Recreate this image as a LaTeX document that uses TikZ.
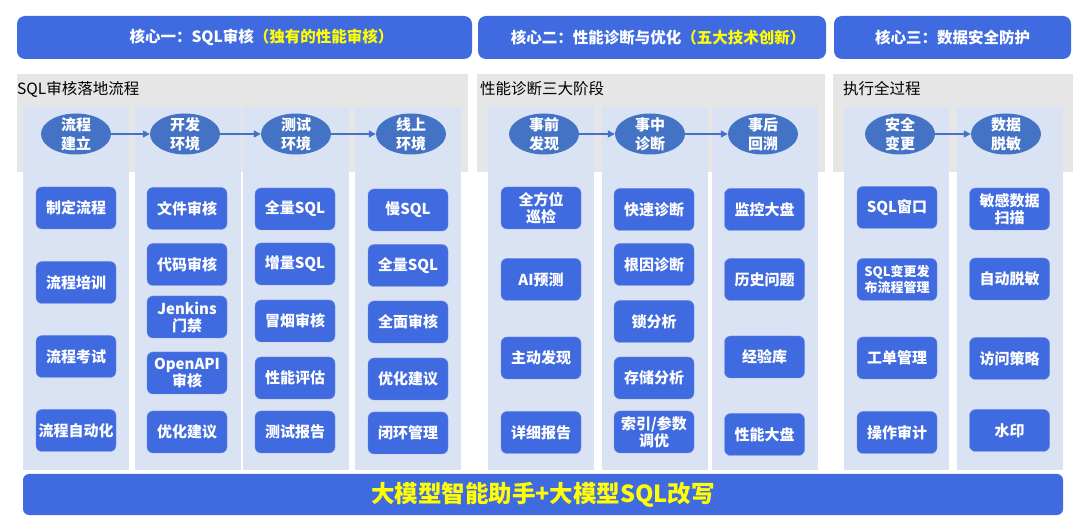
\documentclass[tikz,border=0pt]{standalone}
\usepackage{fontspec}
\setmainfont{Noto Sans CJK SC}
\usepackage{tikz}
\definecolor{kernblue}{RGB}{64,106,224}
\definecolor{ovalblue}{RGB}{68,114,196}
\definecolor{colblue}{RGB}{218,227,243}
\definecolor{panelgrey}{RGB}{230,230,230}
\definecolor{hiyellow}{RGB}{255,255,0}
\usetikzlibrary{arrows.meta, shapes.geometric, positioning}

\begin{document}
\begin{tikzpicture}[x=1pt, y=-1pt,
			>={Triangle[length=7pt, width=7pt]},   %Pfeilspitzen
			kopf/.style={fill=kernblue, rounded corners=8pt, minimum height=43pt, inner sep=0pt, text=white, font=\fontsize{15.5}{18}\selectfont\bfseries},
			titel/.style={anchor=west, inner sep=0pt, font=\fontsize{15.5}{18}\selectfont},
			phase/.style={ellipse, fill=ovalblue, minimum width=70pt, minimum height=41pt, inner sep=-5pt, align=center, text=white, font=\fontsize{15}{19}\selectfont\bfseries},
			item/.style={fill=kernblue, draw=kernblue!75!white, rounded corners=6pt, minimum width=80pt, minimum height=42pt, inner xsep=1pt, inner ysep=0pt, align=center, text=white, font=\fontsize{15}{17}\selectfont\bfseries},
			flow/.style={->, ovalblue, line width=1.4pt},
			balken/.style={fill=kernblue, rounded corners=6pt, minimum width=1040pt, minimum height=41pt, inner sep=0pt, text=hiyellow, font=\fontsize{23.5}{26}\selectfont\bfseries}]
			\useasboundingbox (0,0) rectangle (1080,529);
			% graue Bereiche
			\fill[panelgrey] (17,74) rectangle (468,172);
			\fill[panelgrey] (477,74) rectangle (825,172);
			\fill[panelgrey] (833,74) rectangle (1073,172);
			% Spalten
			\foreach \xa/\xb in {23/129,135/241,243/349,355/461,488/594,602/708,712/818,844/949,957/1063}
				\fill[colblue] (\xa,107) rectangle (\xb,470);
			% Kopfzeilen
			\node[kopf, minimum width=455pt] (kern1) at (244.5,37.5) {\hspace*{34pt}核心一：SQL审核\textcolor{hiyellow}{（独有的性能审核）}};
			\node[kopf, minimum width=348pt] (kern2) at (652,37.5) {\hspace*{12pt}核心二：性能诊断与优化\textcolor{hiyellow}{（五大技术创新）}};
			\node[kopf, minimum width=237pt] (kern3) at (952.5,37.5) {核心三：数据安全防护};
			\node[titel] (t1) at (17,89) {SQL审核落地流程};
			\node[titel] (t2) at (480,89) {性能诊断三大阶段};
			\node[titel] (t3) at (843,89) {执行全过程};
			% Phasen
			\node[phase] (p1) at (76,134) {流程\\建立};
			\node[phase] (p2) at (185,134) {开发\\环境};
			\node[phase] (p3) at (296,134) {测试\\环境};
			\node[phase] (p4) at (411,134) {线上\\环境};
			\node[phase] (q1) at (544,134) {事前\\发现};
			\node[phase] (q2) at (650,134) {事中\\诊断};
			\node[phase] (q3) at (763,134) {事后\\回溯};
			\node[phase] (r1) at (900,134) {安全\\变更};
			\node[phase] (r2) at (1006,134) {数据\\脱敏};
			\draw[flow] (p1) -- (p2);
			\draw[flow] (p2) -- (p3);
			\draw[flow] (p3) -- (p4);
			\draw[flow] (q1) -- (q2);
			\draw[flow] (q2) -- (q3);
			\draw[flow] (r1) -- (r2);
			% Kästen SQL-Audit
			\foreach \txt/\y [count=\i] in {制定流程/208, 流程培训/282.5, 流程考试/356.5, 流程自动化/430.5}
				\node[item] (a\i) at (76,\y) {\txt};
			\foreach \txt/\y [count=\i] in {文件审核/208.5, 代码审核/264.5, {Jenkins\\门禁}/317, {OpenAPI\\审核}/373, 优化建议/432}
				\node[item] (b\i) at (187,\y) {\txt};
			\foreach \txt/\y [count=\i] in {全量SQL/209, 增量SQL/264, 冒烟审核/321, 性能评估/378, 测试报告/432}
				\node[item] (c\i) at (295,\y) {\txt};
			\foreach \txt/\y [count=\i] in {慢SQL/210, 全量SQL/265.5, 全面审核/322, 优化建议/379, 闭环管理/433}
				\node[item] (d\i) at (408,\y) {\txt};
			% Kästen Diagnose
			\foreach \txt/\y [count=\i] in {{全方位\\巡检}/208, AI预测/279.5, 主动发现/358, 详细报告/432.5}
				\node[item] (e\i) at (541,\y) {\txt};
			\foreach \txt/\y [count=\i] in {快速诊断/209.5, 根因诊断/264.5, 锁分析/321.5, 存储分析/378, {索引/参数\\调优}/432}
				\node[item] (f\i) at (654,\y) {\txt};
			\foreach \txt/\y [count=\i] in {监控大盘/209.5, 历史问题/279.5, 经验库/357, 性能大盘/434.5}
				\node[item] (g\i) at (764.5,\y) {\txt};
			% Kästen Sicherheit
			\node[item] (h1) at (897,207.5) {SQL窗口};
			\node[item, font=\fontsize{13}{16}\selectfont\bfseries] (h2) at (897,279.5) {SQL变更发\\布流程管理};
			\node[item] (h3) at (897,358) {工单管理};
			\node[item] (h4) at (897,432.5) {操作审计};
			\foreach \txt/\y [count=\i] in {{敏感数据\\扫描}/209, 自动脱敏/279, 访问策略/358.5, 水印/430.5}
				\node[item] (k\i) at (1009.5,\y) {\txt};
			% Balken unten
			\node[balken] (llm) at (543,494.5) {大模型智能助手+大模型SQL改写};
		\end{tikzpicture}
\end{document}
